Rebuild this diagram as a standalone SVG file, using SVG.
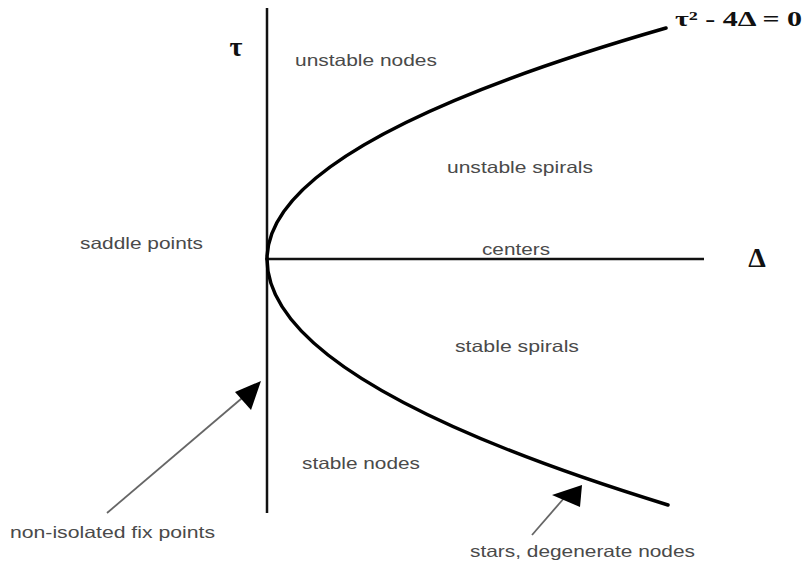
<svg xmlns="http://www.w3.org/2000/svg" width="805" height="567" viewBox="0 0 805 567">
<defs>
<style>
.lbl{font-family:"Liberation Sans",Arial,sans-serif;font-size:16.5px;fill:#4a4a4a;}
.math{font-family:"Liberation Serif","DejaVu Serif",serif;font-weight:bold;fill:#111;}
.axis{stroke:#111;stroke-width:2.5;fill:none;}
.curve{stroke:#000;stroke-width:3.5;fill:none;stroke-linecap:round;}
.ptr{stroke:#666;stroke-width:1.8;fill:none;}
</style>
</defs>
<rect width="805" height="567" fill="#fff"/>
<g id="axes">
<line class="axis" x1="267" y1="8" x2="267" y2="513"/>
<line class="axis" x1="267" y1="259" x2="704" y2="259"/>
</g>
<g id="parabola">
<path class="curve" d="M267,259 Q267,143 666,28"/>
<path class="curve" d="M267,259 Q267,382 668,505"/>
</g>
<g id="connectors">
<path d="M107,513 L248,393" class="ptr"/>
<polygon points="261,381 235,392 251,410" fill="#000"/>
<path d="M532,535 L565,497" class="ptr"/>
<polygon points="582,485 552,495 580,507" fill="#000"/>
</g>
<g id="labels">
<text class="math" x="236" y="56" font-size="28" text-anchor="middle">τ</text>
<text class="math" x="757" y="267" font-size="28" text-anchor="middle">Δ</text>
<text class="math" x="675" y="26" font-size="21" textLength="127" lengthAdjust="spacingAndGlyphs">τ² - 4Δ = 0</text>
<text class="lbl" x="295" y="66" textLength="142" lengthAdjust="spacingAndGlyphs">unstable nodes</text>
<text class="lbl" x="447" y="173" textLength="146" lengthAdjust="spacingAndGlyphs">unstable spirals</text>
<text class="lbl" x="80" y="249" textLength="123" lengthAdjust="spacingAndGlyphs">saddle points</text>
<text class="lbl" x="482" y="255" textLength="68" lengthAdjust="spacingAndGlyphs">centers</text>
<text class="lbl" x="455" y="352" textLength="124" lengthAdjust="spacingAndGlyphs">stable spirals</text>
<text class="lbl" x="302" y="469" textLength="118" lengthAdjust="spacingAndGlyphs">stable nodes</text>
<text class="lbl" x="10" y="538" textLength="205" lengthAdjust="spacingAndGlyphs">non-isolated fix points</text>
<text class="lbl" x="470" y="557" textLength="225" lengthAdjust="spacingAndGlyphs">stars, degenerate nodes</text>
</g>
</svg>
